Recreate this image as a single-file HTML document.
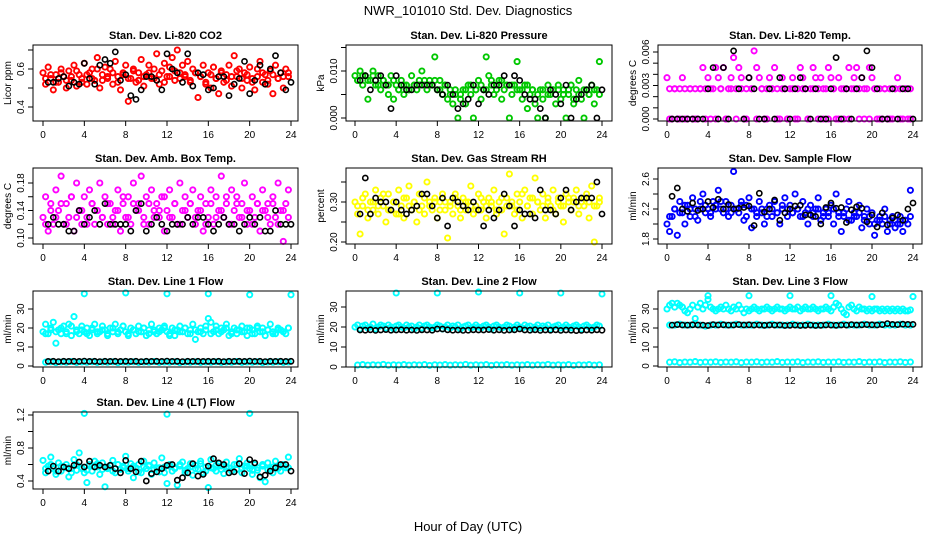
<!DOCTYPE html>
<html><head><meta charset="utf-8"><style>
html,body{margin:0;padding:0;background:#fff;}
svg{display:block;font-family:"Liberation Sans",sans-serif;}
</style></head><body>
<svg id="chart" width="936" height="540" viewBox="0 0 936 540" xmlns="http://www.w3.org/2000/svg">
<rect width="936" height="540" fill="#fff"/>
<text x="468" y="15" text-anchor="middle" font-size="13">NWR_101010  Std. Dev. Diagnostics</text>
<text x="468" y="531" text-anchor="middle" font-size="13">Hour of Day (UTC)</text>
</svg>
<script>
const xTicks = [0,4,8,12,16,20,24];
const hours96 = [0,0.25,0.5,0.75,1,1.25,1.5,1.75,2,2.25,2.5,2.75,3,3.25,3.5,3.75,4,4.25,4.5,4.75,5,5.25,5.5,5.75,6,6.25,6.5,6.75,7,7.25,7.5,7.75,8,8.25,8.5,8.75,9,9.25,9.5,9.75,10,10.25,10.5,10.75,11,11.25,11.5,11.75,12,12.25,12.5,12.75,13,13.25,13.5,13.75,14,14.25,14.5,14.75,15,15.25,15.5,15.75,16,16.25,16.5,16.75,17,17.25,17.5,17.75,18,18.25,18.5,18.75,19,19.25,19.5,19.75,20,20.25,20.5,20.75,21,21.25,21.5,21.75,22,22.25,22.5,22.75,23,23.25,23.5,23.75];
const hours48 = [0.25,0.75,1.25,1.75,2.25,2.75,3.25,3.75,4.25,4.75,5.25,5.75,6.25,6.75,7.25,7.75,8.25,8.75,9.25,9.75,10.25,10.75,11.25,11.75,12.25,12.75,13.25,13.75,14.25,14.75,15.25,15.75,16.25,16.75,17.25,17.75,18.25,18.75,19.25,19.75,20.25,20.75,21.25,21.75,22.25,22.75,23.25,23.75];
const hoursBlack = [0.5,1,1.5,2,2.5,3,3.5,4,4.5,5,5.5,6,6.5,7,7.5,8,8.5,9,9.5,10,10.5,11,11.5,12,12.5,13,13.5,14,14.5,15,15.5,16,16.5,17,17.5,18,18.5,19,19.5,20,20.5,21,21.5,22,22.5,23,23.5,24];
const outlierHours = [4,8,12,16,20,24];
const outlierHours3 = [4,12,20];

const co2Vals = [0.58,0.52,0.61,0.55,0.49,0.57,0.53,0.6,0.56,0.5,0.59,0.54,0.62,0.51,0.57,0.55,0.63,0.52,0.58,0.6,0.54,0.66,0.5,0.57,0.61,0.55,0.6,0.52,0.64,0.56,0.49,0.58,0.62,0.43,0.55,0.6,0.53,0.58,0.65,0.51,0.57,0.62,0.55,0.6,0.68,0.52,0.59,0.63,0.56,0.61,0.66,0.54,0.7,0.58,0.62,0.56,0.64,0.53,0.6,0.58,0.45,0.56,0.62,0.52,0.58,0.5,0.61,0.55,0.47,0.59,0.53,0.57,0.62,0.51,0.67,0.56,0.6,0.5,0.58,0.54,0.61,0.55,0.49,0.6,0.64,0.53,0.57,0.52,0.59,0.47,0.62,0.55,0.58,0.5,0.6,0.56];
const co2Vals2 = [0.55,0.57,0.53,0.58,0.54,0.56,0.59,0.53,0.57,0.55,0.6,0.54,0.56,0.58,0.53,0.57,0.55,0.59,0.54,0.56,0.58,0.55,0.57,0.53,0.56,0.59,0.55,0.57,0.54,0.58,0.56,0.53,0.57,0.55,0.58,0.54,0.56,0.59,0.55,0.57,0.53,0.56,0.58,0.54,0.57,0.55,0.56,0.58];
const co2Black = [0.53,0.53,0.55,0.56,0.51,0.53,0.52,0.63,0.55,0.52,0.62,0.65,0.63,0.69,0.54,0.57,0.46,0.44,0.49,0.56,0.56,0.54,0.49,0.68,0.6,0.58,0.53,0.68,0.51,0.58,0.57,0.49,0.5,0.56,0.56,0.46,0.52,0.55,0.64,0.47,0.54,0.62,0.52,0.6,0.67,0.58,0.49,0.53];

const presVals = [0.009,0.008,0.01,0.007,0.009,0.004,0.008,0.01,0.007,0.009,0.006,0.008,0.007,0.005,0.009,0.004,0.007,0.006,0.008,0.005,0.007,0.006,0.009,0.007,0.006,0.008,0.01,0.007,0.006,0.008,0.007,0.013,0.006,0.008,0.005,0.007,0.004,0.006,0.003,0.005,0.0,0.004,0.006,0.003,0.007,0.005,0.0,0.006,0.008,0.004,0.006,0.013,0.009,0.007,0.005,0.006,0.008,0.004,0.006,0.007,0.0,0.005,0.007,0.012,0.006,0.004,0.007,0.002,0.005,0.006,0.003,0.0,0.006,0.004,0.0,0.007,0.005,0.006,0.003,0.007,0.004,0.006,0.0,0.005,0.007,0.003,0.006,0.008,0.004,0.0,0.006,0.005,0.007,0.003,0.006,0.012];
const presVals2 = [0.008,0.009,0.008,0.009,0.007,0.008,0.007,0.008,0.006,0.007,0.006,0.007,0.007,0.008,0.007,0.008,0.006,0.007,0.005,0.006,0.005,0.006,0.007,0.006,0.007,0.006,0.008,0.007,0.008,0.007,0.007,0.006,0.006,0.007,0.006,0.005,0.006,0.005,0.006,0.006,0.005,0.006,0.004,0.005,0.006,0.005,0.006,0.005];
const presBlack = [0.008,0.009,0.006,0.008,0.009,0.007,0.002,0.009,0.007,0.006,0.006,0.007,0.007,0.007,0.007,0.006,0.005,0.007,0.005,0.002,0.003,0.004,0.007,0.003,0.006,0.005,0.007,0.007,0.009,0.007,0.009,0.008,0.005,0.004,0.004,0.002,0.0,0.006,0.005,0.003,0.007,0.0,0.004,0.005,0.006,0.007,0.0,0.006];

const tempVals = [0.0037,0.0027,0,0.0027,0,0.0027,0.0037,0.0027,0,0.0027,0,0.0027,0,0.0027,0.0046,0.0027,0.0037,0,0.0027,0.0046,0.0037,0.0027,0.0046,0,0.0027,0.0037,0.0055,0.0027,0.0046,0.0037,0,0.0027,0.0037,0.0027,0.0061,0.0046,0.0037,0.0027,0,0.0027,0.0037,0.0027,0.0046,0.0027,0,0.0037,0.0027,0,0.0027,0.0037,0,0.0027,0.0046,0.0037,0.0027,0,0.0027,0.0046,0.0037,0.0027,0.0037,0,0.0027,0.0046,0.0037,0.0027,0,0.0037,0.0027,0,0.0027,0.0046,0.0027,0.0037,0.0046,0.0027,0.0037,0,0.0027,0.0046,0.0037,0.0027,0,0.0027,0,0.0027,0,0.0027,0,0.0027,0.0037,0.0027,0,0.0027,0,0.0027];
const tempVals2 = [0,0.0027,0,0,0.0027,0,0.0027,0,0.0027,0,0.0027,0,0.0027,0,0.0027,0,0.0027,0,0.0027,0,0.0027,0,0.0027,0,0.0027,0,0.0027,0,0.0027,0,0.0027,0,0.0027,0,0.0027,0,0.0027,0,0.0027,0,0.0027,0,0.0027,0,0.0027,0,0.0027,0];
const tempBlack = [0,0,0,0,0,0,0,0.0027,0.0046,0,0.0046,0,0.0061,0.0027,0,0.0037,0.0027,0,0,0.0027,0,0.0037,0.0027,0,0.0027,0.0037,0.0027,0,0.0027,0,0,0.0027,0.0055,0,0.0027,0,0.0027,0.0037,0.0061,0.0046,0.0027,0,0,0.0027,0,0.0027,0.0027,0];

const ambVals = [0.13,0.16,0.11,0.15,0.12,0.17,0.14,0.19,0.12,0.15,0.13,0.16,0.11,0.18,0.14,0.12,0.16,0.13,0.17,0.15,0.12,0.14,0.18,0.13,0.16,0.12,0.15,0.13,0.14,0.17,0.11,0.15,0.13,0.16,0.12,0.18,0.14,0.15,0.19,0.13,0.16,0.12,0.17,0.14,0.15,0.13,0.16,0.11,0.14,0.17,0.13,0.15,0.12,0.18,0.14,0.16,0.13,0.15,0.17,0.12,0.14,0.16,0.11,0.15,0.13,0.17,0.12,0.16,0.14,0.19,0.13,0.15,0.12,0.17,0.14,0.16,0.13,0.15,0.18,0.12,0.14,0.16,0.13,0.15,0.11,0.17,0.14,0.15,0.12,0.16,0.13,0.18,0.14,0.095,0.15,0.17];
const ambVals2 = [0.12,0.14,0.13,0.15,0.12,0.16,0.13,0.14,0.12,0.15,0.14,0.13,0.15,0.12,0.14,0.16,0.13,0.15,0.14,0.12,0.15,0.13,0.14,0.16,0.13,0.15,0.12,0.14,0.15,0.13,0.14,0.12,0.15,0.13,0.14,0.16,0.12,0.15,0.13,0.14,0.12,0.15,0.14,0.13,0.15,0.12,0.14,0.13];
const ambBlack = [0.12,0.13,0.12,0.12,0.11,0.11,0.14,0.12,0.13,0.14,0.12,0.15,0.12,0.12,0.12,0.12,0.11,0.14,0.15,0.11,0.12,0.13,0.12,0.11,0.12,0.12,0.12,0.13,0.12,0.13,0.13,0.12,0.11,0.12,0.13,0.12,0.12,0.11,0.12,0.13,0.12,0.13,0.11,0.11,0.14,0.12,0.12,0.12];

const rhVals = [0.3,0.27,0.22,0.29,0.32,0.26,0.3,0.28,0.33,0.27,0.31,0.29,0.25,0.32,0.28,0.3,0.27,0.33,0.29,0.26,0.31,0.34,0.28,0.3,0.25,0.32,0.29,0.27,0.35,0.3,0.28,0.31,0.26,0.3,0.32,0.28,0.21,0.3,0.27,0.32,0.29,0.26,0.31,0.28,0.3,0.34,0.27,0.29,0.32,0.28,0.3,0.26,0.31,0.29,0.33,0.27,0.3,0.28,0.22,0.31,0.37,0.29,0.27,0.32,0.3,0.26,0.33,0.29,0.31,0.27,0.36,0.3,0.28,0.32,0.26,0.3,0.29,0.33,0.27,0.31,0.29,0.25,0.32,0.3,0.28,0.31,0.33,0.27,0.3,0.29,0.32,0.26,0.34,0.2,0.29,0.31];
const rhVals2 = [0.29,0.31,0.28,0.3,0.29,0.32,0.28,0.3,0.27,0.31,0.29,0.3,0.28,0.31,0.29,0.3,0.28,0.3,0.29,0.31,0.28,0.3,0.29,0.28,0.31,0.29,0.3,0.28,0.31,0.29,0.3,0.28,0.32,0.29,0.31,0.3,0.29,0.31,0.28,0.3,0.29,0.31,0.3,0.29,0.31,0.3,0.29,0.3];
const rhBlack = [0.27,0.36,0.27,0.31,0.3,0.3,0.28,0.3,0.28,0.27,0.28,0.29,0.32,0.32,0.29,0.26,0.31,0.24,0.31,0.3,0.29,0.28,0.3,0.28,0.24,0.28,0.26,0.28,0.32,0.29,0.24,0.28,0.27,0.27,0.26,0.33,0.28,0.28,0.27,0.31,0.33,0.28,0.3,0.31,0.31,0.31,0.35,0.27];

const sfVals = [2.0,1.9,2.1,2.2,1.85,2.3,2.15,2.0,2.25,2.1,2.35,2.2,2.05,2.3,2.4,2.15,2.2,2.1,2.3,2.25,2.45,2.2,2.15,2.3,2.1,2.25,2.7,2.2,2.15,2.3,2.05,2.25,2.35,1.95,2.2,2.1,2.3,2.15,2.0,2.2,2.25,2.1,2.3,2.15,2.0,2.2,2.35,2.1,2.25,2.15,2.4,2.2,2.1,2.3,2.15,2.0,2.25,2.1,2.2,2.35,2.05,2.15,2.2,2.1,2.25,2.0,2.4,2.15,1.9,2.1,2.2,2.3,2.05,2.15,2.1,2.25,1.95,2.1,2.2,2.0,2.15,1.85,2.05,2.1,2.0,2.2,1.9,2.05,2.1,1.95,2.0,2.1,1.9,2.05,2.0,2.45];
const sfVals2 = [2.1,2.2,2.15,2.25,2.2,2.1,2.2,2.25,2.15,2.2,2.3,2.2,2.15,2.2,2.25,2.1,2.2,2.15,2.2,2.1,2.2,2.15,2.25,2.2,2.15,2.2,2.1,2.2,2.15,2.2,2.1,2.15,2.2,2.1,2.15,2.05,2.1,2.15,2.05,2.1,2.0,2.05,2.1,2.0,2.05,2.0,2.05,2.1];
const sfBlack = [2.37,2.48,2.2,2.17,2.28,2.18,2.2,2.3,2.22,2.33,2.2,2.26,2.2,2.21,2.22,2.24,1.98,2.41,2.16,2.2,2.32,2.05,2.15,2.2,2.24,2.25,2.12,2.12,2.1,2.0,2.22,2.28,2.21,2.22,2.02,2.19,2.23,2.21,2.03,2.12,1.96,2.15,1.99,2.08,2.12,2.05,2.2,2.28];

const l1High = [18,22,17,20,23,12,19,17,21,18,22,16,26,19,17,21,18,20,16,19,22,17,18,21,19,16,20,18,22,17,19,21,18,16,20,19,17,21,18,20,16,19,22,18,17,20,19,21,18,17,20,16,19,21,18,20,17,19,22,14,18,20,17,19,25,23,18,21,17,20,19,22,16,18,20,17,19,21,18,16,20,19,17,21,18,20,16,19,22,18,17,20,19,18,17,20];
const l1High2 = [17,19,18,20,17,21,18,19,17,20,18,19,17,20,18,21,17,19,18,20,17,19,18,20,16,19,18,20,17,19,18,21,17,19,18,20,17,19,18,20,17,20,18,19,17,19,18,20];
const l1Low = [2,2.2,1.8,2.1,2,2.3,1.9,2.1,2,2.2,1.9,2.1,2,2.2,1.8,2.1,2,2.2,1.9,2.1,2,2.3,1.9,2.1,2,2.2,1.8,2.1,2,2.2,1.9,2.1,2,2.2,1.9,2.1,2,2.3,1.9,2.1,2,2.2,1.8,2.1,2,2.2,1.9,2.1];
const l1Black = [2.4,2.5,2.3,2.5,2.4,2.5,2.4,2.6,2.4,2.5,2.3,2.5,2.4,2.5,2.4,2.5,2.4,2.5,2.3,2.5,2.4,2.5,2.4,2.6,2.4,2.5,2.3,2.5,2.4,2.5,2.4,2.5,2.4,2.5,2.3,2.5,2.4,2.5,2.4,2.6,2.4,2.5,2.3,2.5,2.4,2.5,2.4,2.5];
const l1Out = [38,38.5,38,38,37.5,37.5];

const l2High = [20,21,19,20.5,21,19.5,20,21.5,19,20,21,20.5,19.5,21,20,19,20.5,21,20,19.5,21,20,20.5,19,20,21,19.5,20.5,21,20,19.5,20,21,20.5,19,20,21,19.5,20.5,20,21,19,20,20.5,21,19.5,20,21,20,19.5,20.5,21,20,19,20.5,21,20,19.5,20,21,20.5,19,20,21,20,19.5,21,20,20.5,19,20,21,19.5,20.5,20,21,19,20,20.5,21,19.5,20,21,20,19.5,20.5,21,20,19,20.5,21,20,19.5,20,21,20.5];
const l2Low = [1,1.2,0.9,1.1,1,1.3,0.9,1.1,1,1.2,0.9,1.1,1,1.2,0.8,1.1,1,1.2,0.9,1.1,1,1.3,0.9,1.1,1,1.2,0.8,1.1,1,1.2,0.9,1.1,1,1.2,0.9,1.1,1,1.3,0.9,1.1,1,1.2,0.8,1.1,1,1.2,0.9,1.1];
const l2Black = [18.5,18.4,18.6,18.3,18.5,18.7,18.4,18.5,18.6,18.4,18.5,18.3,18.6,18.5,18.4,19,19,18.6,18.4,18.5,18.3,18.4,18.6,18.5,18.5,18.7,18.4,18.6,18.3,18.5,18.6,19,18.5,18.4,18.6,18.3,18.5,18.4,18.6,18.3,18.5,18.4,18.2,18.3,18.5,18.4,18.6,18.4];
const l2Out = [37,37,37.5,37,37,36.5];

const l3High = [30,32,33,31,33,32,31,29,28,30,32,25,31,33,30,32,35,31,30,29,30,31,30,32,30,29,31,30,32,30,28,30,29,30,31,30,29,30,30,31,30,29,30,31,30,30,29,30,31,30,30,31,29,30,31,30,30,31,30,29,30,30,31,30,29,31,33,32,30,28,27,31,32,30,29,31,30,30,29,30,29,30,30,29,30,29,30,29,30,29,30,29,30,29,29,29.5];
const l3Mid = [21.5,21.5,22,21.5,21.5,22,21.5,21,21.5,21.5,22,21.5,21.5,22,21.5,21.5,21.5,22,21.5,21.5,22,21.5,21.5,21.5,22,21.5,21.5,22,21.5,21.5,21.5,22,21.5,21.5,22,21.5,21.5,21.5,22,21.5,21.5,22,21.5,21.5,21.5,22,21.5,21.5];
const l3Low = [2,2.2,1.8,2.1,2,2.3,1.9,2.1,2,2.2,1.9,2.1,2,2.2,1.8,2.1,2,2.2,1.9,2.1,2,2.3,1.9,2.1,2,2.2,1.8,2.1,2,2.2,1.9,2.1,2,2.2,1.9,2.1,2,2.3,1.9,2.1,2,2.2,1.8,2.1,2,2.2,1.9,2.1];
const l3Black = [21.5,21.8,21.6,21.5,21.7,21.6,21.5,21.3,21.8,21.6,21.7,21.5,21.6,21.8,21.6,21.7,21.5,21.6,21.4,21.6,21.5,21.6,21.3,21.4,21.5,21.3,21.4,21.5,21.3,21.4,21.6,21.5,21.4,21.6,21.5,21.8,21.6,21.7,21.8,21.7,21.6,21.8,22.3,21.9,21.8,22,21.9,21.9];
const l3Out = [37,37,37,37,36.5,36.5];

const l4Vals = [0.65,0.5,0.58,0.69,0.55,0.48,0.62,0.52,0.57,0.6,0.45,0.55,0.66,0.53,0.74,0.56,0.5,0.38,0.6,0.52,0.64,0.57,0.48,0.62,0.33,0.55,0.59,0.65,0.5,0.6,0.54,0.58,0.7,0.52,0.61,0.44,0.56,0.6,0.5,0.64,0.55,0.58,0.48,0.62,0.56,0.51,0.68,0.57,0.37,0.6,0.52,0.56,0.35,0.58,0.63,0.5,0.55,0.61,0.47,0.59,0.54,0.64,0.5,0.57,0.32,0.66,0.55,0.52,0.61,0.58,0.49,0.63,0.56,0.52,0.6,0.54,0.67,0.5,0.58,0.62,0.55,0.48,0.6,0.53,0.44,0.58,0.39,0.62,0.55,0.5,0.64,0.57,0.52,0.6,0.56,0.69];
const l4Vals2 = [0.55,0.6,0.52,0.58,0.56,0.5,0.6,0.55,0.53,0.58,0.61,0.54,0.57,0.52,0.6,0.56,0.55,0.58,0.51,0.57,0.59,0.54,0.56,0.5,0.58,0.55,0.6,0.53,0.57,0.55,0.61,0.52,0.56,0.59,0.54,0.57,0.52,0.6,0.55,0.58,0.53,0.56,0.6,0.54,0.57,0.55,0.59,0.56];
const l4Black = [0.52,0.58,0.52,0.57,0.55,0.59,0.63,0.57,0.64,0.57,0.59,0.57,0.59,0.55,0.5,0.65,0.55,0.51,0.64,0.4,0.49,0.51,0.55,0.59,0.6,0.41,0.44,0.5,0.61,0.46,0.48,0.58,0.67,0.62,0.6,0.5,0.51,0.61,0.49,0.66,0.62,0.45,0.47,0.52,0.56,0.6,0.6,0.52];
const l4Out = [1.22,1.21,1.22];

const cols = [{left:33,right:298,t0:43,t24:291},{left:346,right:612,t0:355,t24:602},{left:658,right:922,t0:667,t24:913}];
const rows = [{top:45,bottom:121},{top:168,bottom:244},{top:291,bottom:367},{top:412,bottom:489}];

const panels = [
 {name:'co2',title:'Stan. Dev. Li-820 CO2',ylab:'Licor ppm',c:0,r:0,v0:0.4,p0:107,v1:0.6,p1:69,ticks:[0.4,0.5,0.6,0.7],labels:['0.4',null,'0.6',null],
  series:[[hours96,co2Vals,'#ff0000'],[hours48,co2Vals2,'#ff0000'],[hoursBlack,co2Black,'#000']]},
 {name:'pressure',title:'Stan. Dev. Li-820 Pressure',ylab:'kPa',c:1,r:0,v0:0,p0:118,v1:0.01,p1:71,ticks:[0,0.005,0.01,0.015],labels:['0.000',null,'0.010',null],
  series:[[hours96,presVals,'#00c800'],[hours48,presVals2,'#00c800'],[hoursBlack,presBlack,'#000']]},
 {name:'temp',title:'Stan. Dev. Li-820 Temp.',ylab:'degrees C',c:2,r:0,v0:0,p0:119,v1:0.006,p1:52,ticks:[0,0.001,0.002,0.003,0.004,0.005,0.006],labels:['0.000',null,null,'0.003',null,null,'0.006'],
  series:[[hours96,tempVals,'#ff00ff'],[hours48,tempVals2,'#ff00ff'],[hoursBlack,tempBlack,'#000']]},
 {name:'amb-temp',title:'Stan. Dev. Amb. Box Temp.',ylab:'degrees C',c:0,r:1,v0:0.10,p0:238,v1:0.18,p1:183,ticks:[0.10,0.12,0.14,0.16,0.18],labels:['0.10',null,'0.14',null,'0.18'],
  series:[[hours96,ambVals,'#ff00ff'],[hours48,ambVals2,'#ff00ff'],[hoursBlack,ambBlack,'#000']]},
 {name:'rh',title:'Stan. Dev. Gas Stream RH',ylab:'percent',c:1,r:1,v0:0.2,p0:242,v1:0.3,p1:202,ticks:[0.2,0.25,0.3,0.35],labels:['0.20',null,'0.30',null],
  series:[[hours96,rhVals,'#ffff00'],[hours48,rhVals2,'#ffff00'],[hoursBlack,rhBlack,'#000']]},
 {name:'sample-flow',title:'Stan. Dev. Sample Flow',ylab:'ml/min',c:2,r:1,v0:1.8,p0:239,v1:2.6,p1:179,ticks:[1.8,2.0,2.2,2.4,2.6],labels:['1.8',null,'2.2',null,'2.6'],
  series:[[hours96,sfVals,'#0000ff'],[hours48,sfVals2,'#0000ff'],[hoursBlack,sfBlack,'#000']]},
 {name:'line1',title:'Stan. Dev. Line 1 Flow',ylab:'ml/min',c:0,r:2,v0:0,p0:366,v1:30,p1:309,ticks:[0,10,20,30],labels:['0','10','20','30'],
  series:[[hours96,l1High,'#00ffff'],[hours48,l1High2,'#00ffff'],[hours48,l1Low,'#00ffff'],[outlierHours,l1Out,'#00ffff'],[hoursBlack,l1Black,'#000']]},
 {name:'line2',title:'Stan. Dev. Line 2 Flow',ylab:'ml/min',c:1,r:2,v0:0,p0:367,v1:30,p1:307,ticks:[0,10,20,30],labels:['0','10','20','30'],
  series:[[hours96,l2High,'#00ffff'],[hours48,l2Low,'#00ffff'],[outlierHours,l2Out,'#00ffff'],[hoursBlack,l2Black,'#000']]},
 {name:'line3',title:'Stan. Dev. Line 3 Flow',ylab:'ml/min',c:2,r:2,v0:0,p0:366,v1:30,p1:309,ticks:[0,10,20,30],labels:['0','10','20','30'],
  series:[[hours96,l3High,'#00ffff'],[hours48,l3Mid,'#00ffff'],[hours48,l3Low,'#00ffff'],[outlierHours,l3Out,'#00ffff'],[hoursBlack,l3Black,'#000']]},
 {name:'line4',title:'Stan. Dev. Line 4 (LT) Flow',ylab:'ml/min',c:0,r:3,v0:0.4,p0:481,v1:1.2,p1:415,ticks:[0.4,0.6,0.8,1.0,1.2],labels:['0.4',null,'0.8',null,'1.2'],
  series:[[hours96,l4Vals,'#00ffff'],[hours48,l4Vals2,'#00ffff'],[outlierHours3,l4Out,'#00ffff'],[hoursBlack,l4Black,'#000']]}
];

const NS = 'http://www.w3.org/2000/svg';
const svg = document.getElementById('chart');
function mk(tag, attrs, parent){ const e=document.createElementNS(NS,tag); for(const k in attrs) e.setAttribute(k,attrs[k]); (parent||svg).appendChild(e); return e; }

panels.forEach(p=>{
  const col=cols[p.c], row=rows[p.r];
  const xs = h => col.t0 + h*(col.t24-col.t0)/24;
  const ys = v => p.p0 + (v-p.v0)*(p.p1-p.p0)/(p.v1-p.v0);
  const g = mk('g',{});
  
  
  const t = mk('text',{x:(col.left+col.right)/2,y:row.top-6,'text-anchor':'middle','font-size':'11','font-weight':'bold'},g);
  t.textContent = p.title;
  
  
  const yl = mk('text',{x:0,y:0,'text-anchor':'middle','font-size':'10',transform:`translate(${col.left-22},${(row.top+row.bottom)/2}) rotate(-90)`},g);
  yl.textContent = p.ylab;
  
  
  p.series.forEach(s=>{
    const [hs, vs, color] = s;
    const black = color==='#000';
    vs.forEach((v,i)=>{
      const c = mk('circle',{cx:xs(hs[i]).toFixed(1),cy:ys(v).toFixed(1),r:2.6,fill:'none',stroke:color,'stroke-width':black?1.6:1.9},g);
      
      
    });
  });
  const b = mk('rect',{x:col.left,y:row.top,width:col.right-col.left,height:row.bottom-row.top,fill:'none',stroke:'#000','stroke-width':1},g);
  
  
  xTicks.forEach(h=>{
    const x = xs(h);
    mk('line',{x1:x,x2:x,y1:row.bottom,y2:row.bottom+5,stroke:'#000'},g);
    const tl = mk('text',{x:x,y:row.bottom+17,'text-anchor':'middle','font-size':'10'},g);
    tl.textContent = String(h);
    
    
  });
  p.ticks.forEach((v,i)=>{
    const y = ys(v);
    mk('line',{x1:col.left-5,x2:col.left,y1:y,y2:y,stroke:'#000'},g);
    if(p.labels[i]!==null){
      const tl = mk('text',{x:0,y:0,'text-anchor':'middle','font-size':'10',transform:`translate(${col.left-9},${y}) rotate(-90)`},g);
      tl.textContent = p.labels[i];
      
      
    }
  });
});
</script>
</body></html>
